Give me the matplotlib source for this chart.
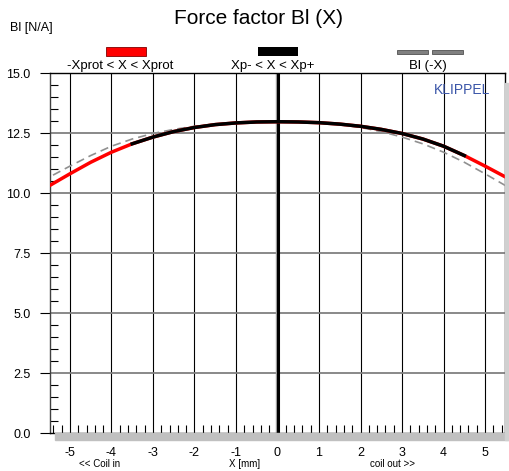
import numpy as np
import matplotlib.pyplot as plt
import matplotlib.patches as patches

plt.rcParams['font.family'] = ['Liberation Sans', 'DejaVu Sans']
plt.rcParams['axes.unicode_minus'] = False

# Bl(x)
x_mm = [-5.5, -5.0, -4.5, -4.0, -3.5, -3.0, -2.5, -2.0, -1.5, -1.0, -0.5, 0.0,
        0.5, 1.0, 1.5, 2.0, 2.5, 3.0, 3.5, 4.0, 4.5, 5.0, 5.5]
bl = [10.30, 10.80, 11.28, 11.70, 12.05, 12.33, 12.56, 12.73, 12.85, 12.92, 12.96, 12.97,
      12.96, 12.93, 12.87, 12.78, 12.65, 12.48, 12.25, 11.95, 11.56, 11.12, 10.66]
xp_minus, xp_plus = -3.5, 4.5

x = np.array(x_mm)
y = np.array(bl)

fig = plt.figure(figsize=(5.09, 4.71), dpi=100)
ax = fig.add_axes([50/509, 38/471, 455/509, 360/471])

# drop shadow
fig.patches.append(patches.Rectangle((55/509, 31/471), 454/509, 7/471,
                                     transform=fig.transFigure, color='#c0c0c0', zorder=0))
fig.patches.append(patches.Rectangle((505/509, 31/471), 3/509, 357/471,
                                     transform=fig.transFigure, color='#d0d0d0', zorder=0))

ax.set_xlim(-5.48, 5.48)
ax.set_ylim(0, 15)

for xv in range(-5, 6):
    ax.axvline(xv, color='black', lw=0.8, zorder=1)
for yv in np.arange(2.5, 15, 2.5):
    ax.axhline(yv, color='#808080', lw=1.3, zorder=1)
ax.axvline(-0.04, color='#a0a0a0', lw=1, zorder=2)
ax.axvline(0.02, color='black', lw=2.2, zorder=2)

# curves
ax.plot(-x, y, color='#909090', lw=1.2, dashes=(5, 3), zorder=3)
ax.plot(x, y, color='red', lw=2.5, zorder=4)
m = (x >= xp_minus) & (x <= xp_plus)
ax.plot(x[m], y[m], color='black', lw=2.5, zorder=5)

ax.set_xticks(range(-5, 6))
ax.set_xticks(np.arange(-5.4, 5.5, 0.2), minor=True)
ax.set_yticks(np.arange(0, 15.1, 2.5))
ax.set_yticks(np.arange(0, 15.1, 0.5), minor=True)
ax.set_yticklabels([f'{v:.1f}' for v in np.arange(0, 15.1, 2.5)])
ax.tick_params(axis='x', which='major', direction='out', length=4, labelsize=9, pad=6)
ax.tick_params(axis='x', which='minor', direction='in', length=6, width=0.8)
ax.tick_params(axis='y', which='major', direction='out', length=7, labelsize=9, pad=7)
ax.tick_params(axis='y', which='minor', direction='in', length=6, width=0.8)
for s in ax.spines.values():
    s.set_linewidth(1)
ax.spines['left'].set_color('#404040')

# texts
fig.text(258/509, 1 - 18/471, 'Force factor Bl (X)', ha='center', va='center', fontsize=15)
fig.text(10/509, 1 - 28/471, 'Bl [N/A]', ha='left', va='center', fontsize=9)
ax.text(0.967, 0.953, 'KLIPPEL', transform=ax.transAxes, ha='right', va='center',
        fontsize=10, color='#3a55a8')
fig.text(100/509, 1 - 464/471, '<< Coil in', ha='center', va='center', fontsize=7)
fig.text(245/509, 1 - 464/471, 'X [mm]', ha='center', va='center', fontsize=7)
fig.text(392/509, 1 - 464/471, 'coil out >>', ha='center', va='center', fontsize=7)

# legend boxes above the plot
def px(x0, y0, w, h, c, ec='none'):
    fig.patches.append(patches.Rectangle((x0/509, 1 - (y0 + h)/471), w/509, h/471,
                                         transform=fig.transFigure, facecolor=c,
                                         edgecolor=ec, lw=0.6))

px(106, 47, 40, 9, 'red', '#800000')
px(258, 47, 40, 9, 'black')
px(397, 50, 31, 4, '#808080', '#505050')
px(432, 50, 31, 4, '#808080', '#505050')
fig.text(120/509, 1 - 66/471, '-Xprot < X < Xprot', ha='center', va='center', fontsize=9.5)
fig.text(273/509, 1 - 66/471, 'Xp- < X < Xp+', ha='center', va='center', fontsize=9.5)
fig.text(428/509, 1 - 66/471, 'Bl (-X)', ha='center', va='center', fontsize=9.5)

fig.savefig('out.png', dpi=100)
